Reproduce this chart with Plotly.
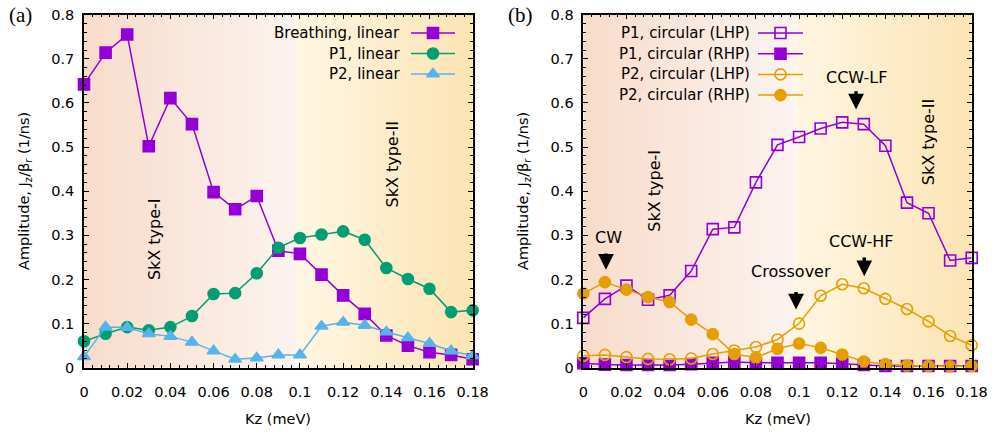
import plotly.graph_objects as go

# ---------------- data ----------------
kz = [0.00, 0.01, 0.02, 0.03, 0.04, 0.05, 0.06, 0.07, 0.08, 0.09,
      0.10, 0.11, 0.12, 0.13, 0.14, 0.15, 0.16, 0.17, 0.18]

breathing_lin = [0.642, 0.714, 0.755, 0.502, 0.611, 0.552, 0.398, 0.359, 0.389, 0.265,
                 0.258, 0.211, 0.164, 0.122, 0.073, 0.050, 0.035, 0.029, 0.019]
p1_lin = [0.060, 0.077, 0.092, 0.085, 0.092, 0.117, 0.167, 0.169, 0.214, 0.272,
          0.294, 0.302, 0.309, 0.290, 0.226, 0.201, 0.179, 0.126, 0.130]
p2_lin = [0.025, 0.092, 0.091, 0.077, 0.071, 0.058, 0.038, 0.019, 0.022, 0.029,
          0.029, 0.094, 0.103, 0.096, 0.081, 0.068, 0.055, 0.038, 0.027]

p1_lhp = [0.113, 0.156, 0.186, 0.154, 0.164, 0.219, 0.314, 0.318, 0.420, 0.505,
          0.523, 0.542, 0.556, 0.552, 0.503, 0.374, 0.350, 0.243, 0.249]
p1_rhp = [0.010, 0.007, 0.006, 0.006, 0.006, 0.008, 0.011, 0.013, 0.011, 0.011,
          0.011, 0.011, 0.009, 0.006, 0.004, 0.004, 0.004, 0.004, 0.004]
p2_lhp = [0.027, 0.029, 0.024, 0.020, 0.019, 0.021, 0.031, 0.039, 0.047, 0.064,
          0.100, 0.163, 0.189, 0.180, 0.156, 0.133, 0.105, 0.072, 0.051]
p2_rhp = [0.168, 0.194, 0.177, 0.160, 0.149, 0.109, 0.076, 0.031, 0.023, 0.043,
          0.055, 0.045, 0.030, 0.014, 0.008, 0.005, 0.004, 0.003, 0.004]

PHASE_BOUNDARY = 0.098
X_RANGE = [0, 0.18]
Y_RANGE = [0, 0.8]

PURPLE = "#9400d3"
GREEN = "#009e73"
BLUE = "#56b4e9"
ORANGE = "#e69f00"
FONT = "DejaVu Sans"

W, H = 995, 434

fig = go.Figure()

# ---------------- background phase shading ----------------
def add_background(xa, ya):
    fig.add_trace(go.Scatter(
        x=[X_RANGE[0], PHASE_BOUNDARY, PHASE_BOUNDARY, X_RANGE[0], X_RANGE[0]],
        y=[Y_RANGE[0], Y_RANGE[0], Y_RANGE[1], Y_RANGE[1], Y_RANGE[0]],
        fill="toself", mode="none", hoverinfo="skip", showlegend=False,
        fillgradient=dict(type="horizontal",
                          colorscale=[[0, "#f8dccb"], [1, "#fcf3ef"]]),
        xaxis=xa, yaxis=ya))
    fig.add_trace(go.Scatter(
        x=[PHASE_BOUNDARY, X_RANGE[1], X_RANGE[1], PHASE_BOUNDARY, PHASE_BOUNDARY],
        y=[Y_RANGE[0], Y_RANGE[0], Y_RANGE[1], Y_RANGE[1], Y_RANGE[0]],
        fill="toself", mode="none", hoverinfo="skip", showlegend=False,
        fillgradient=dict(type="horizontal",
                          colorscale=[[0, "#fff6e3"], [1, "#fce4b4"]]),
        xaxis=xa, yaxis=ya))

add_background("x", "y")
add_background("x2", "y2")

# ---------------- series ----------------
series_a = [
    ("Breathing, linear", breathing_lin, PURPLE, "square", 11),
    ("P1, linear", p1_lin, GREEN, "circle", 11),
    ("P2, linear", p2_lin, BLUE, "triangle-up", 11),
]
series_b = [
    ("P1, circular (LHP)", p1_lhp, PURPLE, "square-open", 11),
    ("P1, circular (RHP)", p1_rhp, PURPLE, "square", 11),
    ("P2, circular (LHP)", p2_lhp, ORANGE, "circle-open", 11),
    ("P2, circular (RHP)", p2_rhp, ORANGE, "circle", 11),
]

for name, vals, col, sym, sz in series_a:
    fig.add_trace(go.Scatter(
        x=kz, y=vals, mode="lines+markers", name=name, showlegend=False,
        line=dict(color=col, width=1.5),
        marker=dict(symbol=sym, size=sz, color=col, line=dict(width=1.6, color=col)),
        cliponaxis=False, xaxis="x", yaxis="y"))

for name, vals, col, sym, sz in series_b:
    fig.add_trace(go.Scatter(
        x=kz, y=vals, mode="lines+markers", name=name, showlegend=False,
        line=dict(color=col, width=1.5),
        marker=dict(symbol=sym, size=sz, color=col, line=dict(width=1.6, color=col)),
        cliponaxis=False, xaxis="x2", yaxis="y2"))

# ---------------- gnuplot-style legends (pixel overlay axis) ----------------
legend_layout = [
    # (series list, text right edge, line x0, line x1, first row y, row step)
    (series_a, 402, 411, 455, 33, 20.5),
    (series_b, 751.5, 758, 803, 33, 20.7),
]
annotations = []
for ser, tx, lx0, lx1, y0, dy in legend_layout:
    for i, (name, vals, col, sym, sz) in enumerate(ser):
        yy = y0 + i * dy
        fig.add_trace(go.Scatter(
            x=[lx0, lx1], y=[yy, yy], mode="lines", showlegend=False, hoverinfo="skip",
            line=dict(color=col, width=1.5), xaxis="x3", yaxis="y3"))
        fig.add_trace(go.Scatter(
            x=[(lx0 + lx1) / 2], y=[yy], mode="markers", showlegend=False, hoverinfo="skip",
            marker=dict(symbol=sym, size=sz, color=col, line=dict(width=1.6, color=col)),
            cliponaxis=False, xaxis="x3", yaxis="y3"))
        annotations.append(dict(
            x=tx / W, y=1 - yy / H, xref="paper", yref="paper", text=name,
            xanchor="right", yanchor="middle", showarrow=False,
            font=dict(family=FONT, size=15, color="black")))

# ---------------- axes ----------------
def axis_common():
    return dict(
        showline=True, linecolor="black", linewidth=1.5, mirror="allticks",
        ticks="inside", ticklen=5, tickwidth=1, tickcolor="black",
        showgrid=False, zeroline=False, automargin=False,
        tickfont=dict(family=FONT, size=14.5, color="black"),
    )

xa = axis_common()
xa.update(range=X_RANGE, dtick=0.02, tick0=0,
          minor=dict(dtick=0.004, ticks="inside", ticklen=3, tickwidth=1, tickcolor="black"),
          ticklabelstandoff=10)
ya = axis_common()
ya.update(range=Y_RANGE, dtick=0.1, tick0=0,
          minor=dict(dtick=0.02, ticks="inside", ticklen=3, tickwidth=1, tickcolor="black"),
          ticklabelstandoff=5)

ydom = [(H - 367.7) / H, (H - 14.7) / H]

fig.update_layout(
    width=W, height=H,
    margin=dict(l=0, r=0, t=0, b=0, autoexpand=False),
    paper_bgcolor="white", plot_bgcolor="rgba(0,0,0,0)",
    font=dict(family=FONT, size=14, color="black"),
    xaxis=dict(**xa, domain=[84.0 / W, 472.7 / W], anchor="y"),
    yaxis=dict(**ya, domain=ydom, anchor="x"),
    xaxis2=dict(**xa, domain=[583.3 / W, 971.7 / W], anchor="y2"),
    yaxis2=dict(**ya, domain=ydom, anchor="x2"),
    xaxis3=dict(domain=[0, 1], range=[0, W], visible=False, anchor="y3",
                fixedrange=True, automargin=False),
    yaxis3=dict(domain=[0, 1], range=[H, 0], visible=False, anchor="x3",
                fixedrange=True, automargin=False),
    showlegend=False,
)

# ---------------- text annotations ----------------
def txt(x, y, text, xref, yref, angle=0, size=16, family=FONT):
    annotations.append(dict(x=x, y=y, xref=xref, yref=yref, text=text, showarrow=False,
                            textangle=angle, xanchor="center", yanchor="middle",
                            font=dict(family=family, size=size, color="black")))

def arrow(x, y_head, y_tail, xref, yref):
    annotations.append(dict(x=x, y=y_head, ax=x, ay=y_tail, xref=xref, yref=yref,
                            axref=xref, ayref=yref, text="", showarrow=True,
                            arrowhead=2, arrowsize=0.9, arrowwidth=3.5, arrowcolor="black"))

# panel labels
txt(20 / W, 1 - 15 / H, "(a)", "paper", "paper", size=21, family="Liberation Serif")
txt(520 / W, 1 - 15 / H, "(b)", "paper", "paper", size=21, family="Liberation Serif")

# axis titles
ytitle = "Amplitude, J<sub>z</sub>/β<sub>r</sub> (1/ns)"
txt(25 / W, 1 - 191 / H, ytitle, "paper", "paper", angle=-90, size=14.5)
txt(524 / W, 1 - 191 / H, ytitle, "paper", "paper", angle=-90, size=14.5)
txt(278 / W, 1 - 419 / H, "Kz (meV)", "paper", "paper", size=14.5)
txt(777.5 / W, 1 - 419 / H, "Kz (meV)", "paper", "paper", size=14.5)

# phase labels
txt(0.033, 0.292, "SkX type-I", "x", "y", angle=-90)
txt(0.143, 0.46, "SkX type-II", "x", "y", angle=-90)
txt(0.033, 0.40, "SkX type-I", "x2", "y2", angle=-90)
txt(0.160, 0.51, "SkX type-II", "x2", "y2", angle=-90)

# mode labels and arrows in (b)
txt(0.0115, 0.296, "CW", "x2", "y2")
arrow(0.0105, 0.222, 0.262, "x2", "y2")
txt(0.0963, 0.218, "Crossover", "x2", "y2")
arrow(0.0986, 0.132, 0.175, "x2", "y2")
txt(0.129, 0.287, "CCW-HF", "x2", "y2")
arrow(0.1302, 0.207, 0.253, "x2", "y2")
txt(0.1267, 0.657, "CCW-LF", "x2", "y2")
arrow(0.1264, 0.585, 0.630, "x2", "y2")

fig.update_layout(annotations=annotations)

fig.write_html("out.html")
